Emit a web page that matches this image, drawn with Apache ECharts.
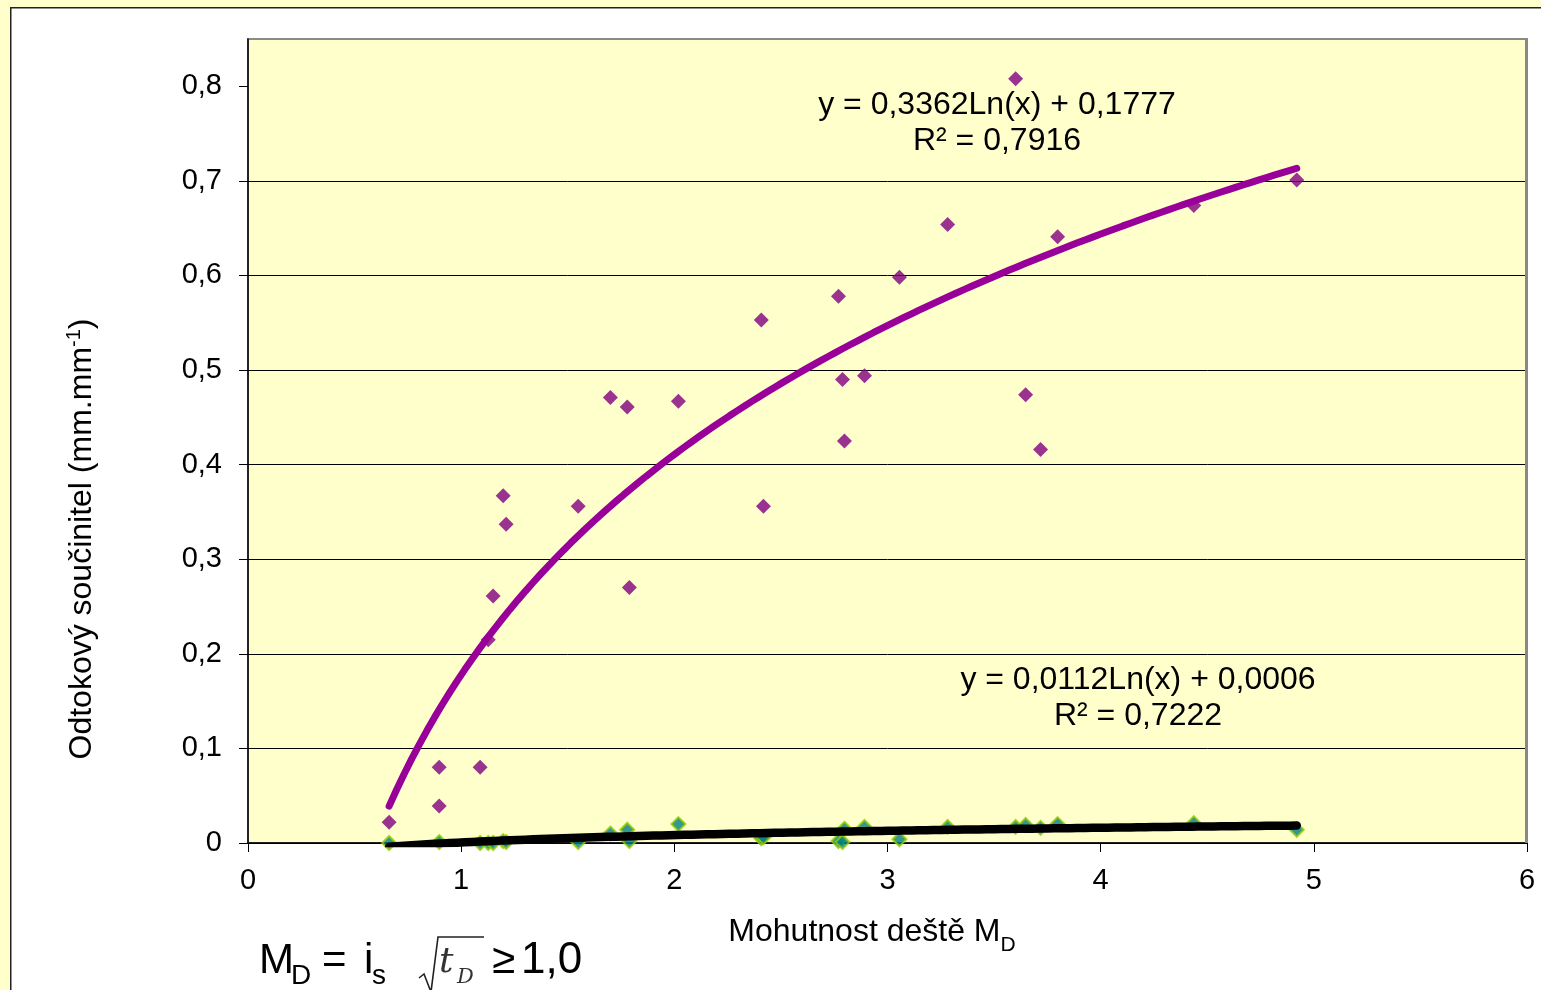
<!DOCTYPE html>
<html>
<head>
<meta charset="utf-8">
<script src="https://cdn.jsdelivr.net/npm/echarts@6/dist/echarts.min.js"></script>
<style>
html,body{margin:0;padding:0;background:#FFFFCC;}
#c{width:1541px;height:990px;}
</style>
</head>
<body>
<div id="c"></div>
<script>
// Data: rain intensity M_D (x) and runoff coefficient (y)
const purpleX = [0.662,0.897,0.897,1.089,1.127,1.150,1.197,1.211,1.549,1.700,1.779,1.789,2.019,2.408,2.418,2.770,2.789,2.798,2.892,3.056,3.282,3.601,3.648,3.718,3.798,4.437,4.920];
const purpleY = [0.022,0.080,0.039,0.080,0.215,0.261,0.367,0.337,0.356,0.471,0.461,0.270,0.467,0.553,0.356,0.578,0.490,0.425,0.494,0.598,0.654,0.808,0.474,0.416,0.641,0.674,0.701];
const greenX = [0.662,0.897,1.089,1.127,1.150,1.197,1.211,1.549,1.700,1.779,1.789,2.019,2.408,2.418,2.770,2.789,2.798,2.892,3.056,3.282,3.601,3.648,3.718,3.798,4.437,4.920];
const greenY = [0.000,0.001,0.000,0.000,0.000,0.002,0.001,0.001,0.010,0.014,0.002,0.020,0.005,0.006,0.002,0.001,0.015,0.017,0.004,0.017,0.017,0.019,0.016,0.020,0.021,0.014];
// Trendline coefficients (as printed in chart): y = a*ln(x) + b
const trendPurple = {a:0.3362, b:0.1777, r2:'0,7916'};
const trendBlack = {a:0.0112, b:0.0006, r2:'0,7222'};
const yTicks = [0,0.1,0.2,0.3,0.4,0.5,0.6,0.7,0.8];
const xTicks = [0,1,2,3,4,5,6];

function zip(xs, ys){ return xs.map((x,i)=>[x, ys[i]]); }
function trend(t, xs){
  const lo = Math.min(...xs), hi = Math.max(...xs);
  const pts = [];
  const n = 120;
  for (let i=0;i<=n;i++){ const x = lo + (hi-lo)*i/n; pts.push([x, t.a*Math.log(x)+t.b]); }
  return pts;
}
const fmt = v => v===0 ? '0' : String(+v.toFixed(1)).replace('.', ',');
const FONT = "'Liberation Sans', Arial, sans-serif";
const SERIF = "'DejaVu Serif', 'Liberation Serif', serif";

// place text by its baseline (approximate: middle of em box is ~0.35em above baseline)
function txt(x, base, s, size, family, opts){
  opts = opts || {};
  return {type:'text', x:x, y:base - 0.35*size, z:10, silent:true,
    style:{text:s, font:(opts.italic?'italic ':'')+size+'px '+family, fill:opts.fill||'#000', align:'left', verticalAlign:'middle'}};
}

const chart = echarts.init(document.getElementById('c'), null, {renderer:'canvas'});
chart.setOption({
  backgroundColor:'#FFFFCC',
  animation:false,
  grid:{left:248, top:39, right:14, bottom:147, show:true, backgroundColor:'#FFFFCC', borderColor:'#8a8a8a', borderWidth:2},
  xAxis:{
    type:'value', min:0, max:6, interval:1,
    axisLine:{show:true, onZero:false, lineStyle:{color:'#000', width:1.5}},
    axisTick:{show:true, inside:false, length:9, lineStyle:{color:'#000'}},
    axisLabel:{color:'#000', fontSize:29, fontFamily:FONT, margin:23, formatter:v=>xTicks.includes(v)?String(v):''},
    splitLine:{show:false}
  },
  yAxis:{
    type:'value', min:0, max:0.85, interval:0.1,
    axisLine:{show:true, lineStyle:{color:'#000', width:1.5}},
    axisTick:{show:true, length:9, lineStyle:{color:'#000'}, customValues:yTicks},
    axisLabel:{color:'#000', fontSize:29, fontFamily:FONT, margin:26, customValues:yTicks, formatter:fmt},
    splitLine:{show:true, showMaxLine:false, lineStyle:{color:'#000', width:1}}
  },
  series:[
    {type:'scatter', data:zip(purpleX,purpleY), symbol:'diamond', symbolSize:15,
     itemStyle:{color:'#800080'}, z:3},
    {type:'scatter', data:zip(greenX,greenY), symbol:'diamond', symbolSize:14,
     itemStyle:{color:'#008080', borderColor:'#99CC00', borderWidth:2}, z:3},
    {type:'line', data:trend(trendPurple, purpleX), showSymbol:false, smooth:false, clip:true,
     lineStyle:{color:'#990099', width:7, cap:'round'}, z:4},
    {type:'line', data:trend(trendBlack, greenX), showSymbol:false, smooth:false, clip:true,
     lineStyle:{color:'#000', width:8.5, cap:'round'}, z:4}
  ],
  graphic:[
    {type:'rect', left:10, top:7, shape:{width:1560, height:1000}, style:{fill:'#fff', stroke:'#222', lineWidth:1.5}, z:-10, silent:true},
    {type:'line', shape:{x1:1526.5, y1:39, x2:1526.5, y2:843}, style:{stroke:'#888', lineWidth:3}, z:5, silent:true},
    {type:'text', x:997, y:105, z:10, style:{text:'y = 0,3362Ln(x) + 0,1777', font:'32px '+FONT, fill:'#000', align:'center', verticalAlign:'middle'}},
    {type:'text', x:997, y:141, z:10, style:{text:'R² = '+trendPurple.r2, font:'32px '+FONT, fill:'#000', align:'center', verticalAlign:'middle'}},
    {type:'text', x:1138, y:680, z:10, style:{text:'y = 0,0112Ln(x) + 0,0006', font:'32px '+FONT, fill:'#000', align:'center', verticalAlign:'middle'}},
    {type:'text', x:1138, y:716, z:10, style:{text:'R² = '+trendBlack.r2, font:'32px '+FONT, fill:'#000', align:'center', verticalAlign:'middle'}},
    {type:'text', x:872, y:932, z:10, style:{
      text:'{m|Mohutnost deště M}{s|D}', align:'center', verticalAlign:'middle',
      rich:{m:{fontSize:32, fontFamily:FONT, fill:'#000', lineHeight:36, verticalAlign:'middle'},
            s:{fontSize:21, fontFamily:FONT, fill:'#000', lineHeight:36, verticalAlign:'bottom', padding:[0,0,-6,0]}}}},
    {type:'text', x:82, y:539, rotation:Math.PI/2, z:10, style:{
      text:'{m|Odtokový součinitel (mm.mm}{s|-1}{m|)}', align:'center', verticalAlign:'middle',
      rich:{m:{fontSize:32, fontFamily:FONT, fill:'#000', lineHeight:36, verticalAlign:'middle'},
            s:{fontSize:20, fontFamily:FONT, fill:'#000', lineHeight:36, verticalAlign:'top'}}}},
    // bottom formula  M_D = i_s sqrt(t_D) >= 1,0
    txt(259, 976, 'M', 42, FONT),
    txt(291, 986, 'D', 28, FONT),
    txt(322, 976, '=', 42, FONT),
    txt(364, 976, 'i', 42, FONT),
    txt(372, 986, 's', 28, FONT),
    {type:'polyline', z:10, silent:true, shape:{points:[[419,978],[424,974],[431,992],[438,937],[484,937]]}, style:{stroke:'#222', lineWidth:1.6, fill:null}},
    txt(439, 975, 't', 36, SERIF, {italic:true, fill:'#333'}),
    txt(457, 985, 'D', 21, SERIF, {italic:true, fill:'#333'}),
    txt(492, 976, '≥', 42, FONT),
    txt(521, 976, '1,0', 44, FONT)
  ]
});
</script>
</body>
</html>
